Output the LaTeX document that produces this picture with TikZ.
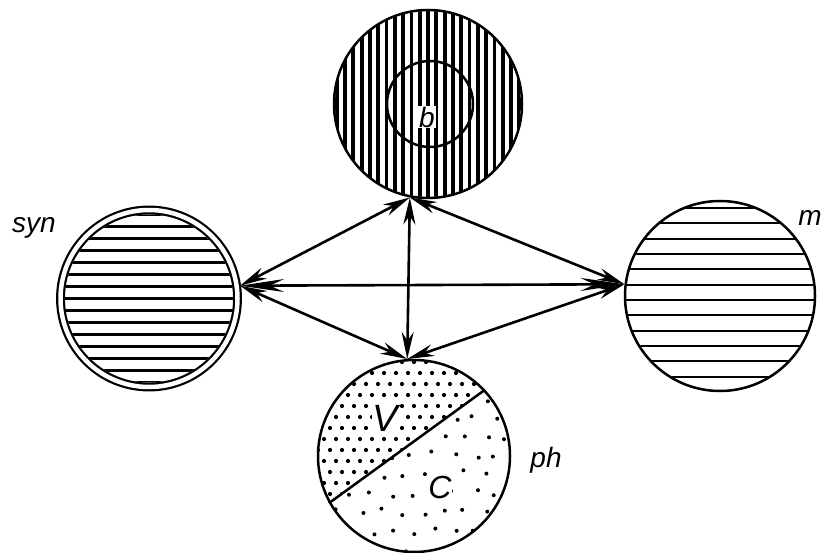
\documentclass[tikz,border=0pt]{standalone}
\usepackage{fontspec}
\setmainfont{Liberation Sans}
\usetikzlibrary{arrows.meta,calc}

\begin{document}
\begin{tikzpicture}[x=1pt, y=-1pt,
  ring/.style={circle, draw, line width=2.5pt, inner sep=0pt},
  ar/.style={{Stealth[length=27pt,width=12pt]}-{Stealth[length=27pt,width=12pt]}, line width=2.6pt},
  arl/.style={{Stealth[length=44pt,width=13pt]}-{Stealth[length=44pt,width=13pt]}, line width=2.6pt},
  lab/.style={font=\fontsize{28}{32}\selectfont\itshape},
  big/.style={font=\fontsize{#1}{#1}\selectfont\itshape, fill=white, inner sep=0.5pt}
]
\useasboundingbox (0,0) rectangle (824,553);

% circles
\node[ring, minimum size=188pt] (b) at (428,104) {};
\node[ring, minimum size=177pt, line width=2.2pt, double, double distance=4.5pt, outer sep=3.5pt] (syn) at (149,298.5) {};
\node[ring, minimum size=190pt] (m) at (720,296) {};
\node[ring, minimum size=192pt] (ph) at (414,456) {};

% vertical hatching
\begin{scope}
  \clip (b.center) circle (93);
  \foreach \k in {-11,...,11}
    \draw[line width=3.8pt, shift={(b.center)}] ({8.3*(\k)},-100) -- ({8.3*(\k)},100);
\end{scope}
\node[ring, minimum size=86pt] (bi) at (430,104) {};

% horizontal hatching
\begin{scope}
  \clip (syn.center) circle (84);
  \foreach \k in {-7,...,7}
    \draw[line width=3.2pt, shift={(syn.center)}] (-90,{12*(\k)}) -- (90,{12*(\k)});
\end{scope}
\begin{scope}
  \clip (m.center) circle (94);
  \foreach \k in {-6,...,5}
    \draw[line width=2pt, shift={(m.center)}] (-100,{4+15.3*(\k)}) -- (100,{4+15.3*(\k)});
\end{scope}

% dots
\coordinate (pa) at ($(ph.43)!-1!(ph.209)$);
\coordinate (pb) at ($(ph.209)!-1!(ph.43)$);
\begin{scope}
  \clip (ph.center) circle (95);
  \clip (pa) -- (pb) -- ([shift={(-300,-300)}]pb) -- ([shift={(-300,-300)}]pa) -- cycle;
  \foreach \j in {0,...,18}
    \foreach \i in {0,...,16}
      \fill ({318+12*\i+6*mod(\j,2)},{362+11*\j}) circle (2.1);
\end{scope}
\begin{scope}
  \clip (ph.center) circle (95);
  \clip (pa) -- (pb) -- ([shift={(300,300)}]pb) -- ([shift={(300,300)}]pa) -- cycle;
  \pgfmathsetseed{3}
  \foreach \j in {0,...,10}
    \foreach \i in {0,...,10}{
      \pgfmathsetmacro\dx{4*rand}
      \pgfmathsetmacro\dy{4*rand}
      \fill ({318+21*\i+10.5*mod(\j,2)+\dx},{360+19*\j+\dy}) circle (2);
    }
\end{scope}
\draw[line width=2.5pt] (ph.43) -- (ph.209);

% labels
\node[lab] (synlab) at (34,228) {syn};
\node[lab] (mlab) at (810,218) {m};
\node[lab] (phlab) at (546,460) {ph};
\node[lab, fill=white, inner sep=1pt] (blab) at (427,117) {b};
\node[big=38] (vlab) at (385,418) {V};
\node[big=32] (clab) at (440,487) {C};

% arrows
\draw[ar] (syn.8) -- (b.259);
\draw[ar] (b.259) -- (m.173);
\draw[arl] (syn.8) -- (m.173);
\draw[ar] (b.259) -- (ph.94);
\draw[ar] (syn.8) -- (ph.94);
\draw[ar] (m.173) -- (ph.94);
\end{tikzpicture}
\end{document}
